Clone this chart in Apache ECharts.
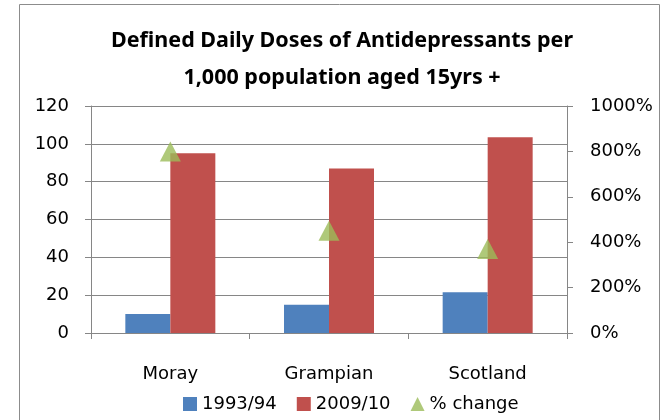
<!DOCTYPE html>
<html>
<head>
<meta charset="utf-8">
<script src="https://cdn.jsdelivr.net/npm/echarts@6/dist/echarts.min.js"></script>
<style>
  html, body { margin: 0; padding: 0; background: #fff; }
  #chart { width: 668px; height: 420px; }
</style>
</head>
<body>
<div id="chart"></div>
<script>
// data
const categories = ['Moray', 'Grampian', 'Scotland'];
const doses1993 = [10, 15, 21.5];
const doses2009 = [95, 87, 103.5];
const pctChange = [800, 450, 370];
const leftTicks = { min: 0, max: 120, interval: 20 };
const rightTicks = { min: 0, max: 1000, interval: 200 };

const font = 'DejaVu Sans';
const gridColor = '#868686';

const myChart = echarts.init(document.getElementById('chart'));
const option = {
  animation: false,
  textStyle: { fontFamily: font },
  title: {
    text: 'Defined Daily Doses of Antidepressants per\n1,000 population aged 15yrs +',
    left: 337,
    top: 17,
    textAlign: 'center',
    textStyle: { fontFamily: 'Noto Sans', fontSize: 21.5, fontWeight: 'bold', color: '#000', lineHeight: 37 }
  },
  graphic: [{
    type: 'rect',
    shape: { x: 19.5, y: 4.5, width: 640, height: 430 },
    style: { fill: 'none', stroke: '#8c8c8c', lineWidth: 1 },
    silent: true
  }],
  legend: {
    bottom: 2,
    left: 178,
    itemWidth: 14,
    itemHeight: 14,
    itemGap: 20,
    textStyle: { fontSize: 18, color: '#000', fontFamily: font },
    data: [
      { name: '1993/94', icon: 'rect' },
      { name: '2009/10', icon: 'rect' },
      { name: '% change', icon: 'triangle' }
    ]
  },
  grid: { left: 91, right: 101, top: 106, bottom: 87 },
  xAxis: {
    type: 'category',
    data: categories,
    axisLine: { lineStyle: { color: gridColor } },
    axisTick: { show: true, length: 6, lineStyle: { color: gridColor } },
    axisLabel: { fontSize: 18, color: '#000', margin: 32 }
  },
  yAxis: [
    {
      type: 'value',
      min: leftTicks.min, max: leftTicks.max, interval: leftTicks.interval,
      axisLine: { show: true, lineStyle: { color: gridColor } },
      axisTick: { show: true, length: 6, lineStyle: { color: gridColor } },
      splitLine: { lineStyle: { color: gridColor } },
      axisLabel: { fontSize: 18, color: '#000', margin: 22 }
    },
    {
      type: 'value',
      position: 'right',
      min: rightTicks.min, max: rightTicks.max, interval: rightTicks.interval,
      axisLine: { show: true, lineStyle: { color: gridColor } },
      axisTick: { show: true, length: 6, lineStyle: { color: gridColor } },
      splitLine: { show: false },
      axisLabel: { fontSize: 18, color: '#000', margin: 23, formatter: v => v + '%' }
    }
  ],
  series: [
    {
      name: '1993/94',
      type: 'bar',
      data: doses1993,
      barWidth: 45,
      barGap: '0%',
      itemStyle: { color: '#4F81BD' }
    },
    {
      name: '2009/10',
      type: 'bar',
      data: doses2009,
      barWidth: 45,
      barGap: '0%',
      itemStyle: { color: '#C0504D' }
    },
    {
      name: '% change',
      type: 'scatter',
      yAxisIndex: 1,
      data: pctChange,
      symbol: 'triangle',
      symbolSize: [21, 20],
      itemStyle: { color: '#9BBB59' },
      z: 5
    }
  ]
};
myChart.setOption(option);
</script>
</body>
</html>
